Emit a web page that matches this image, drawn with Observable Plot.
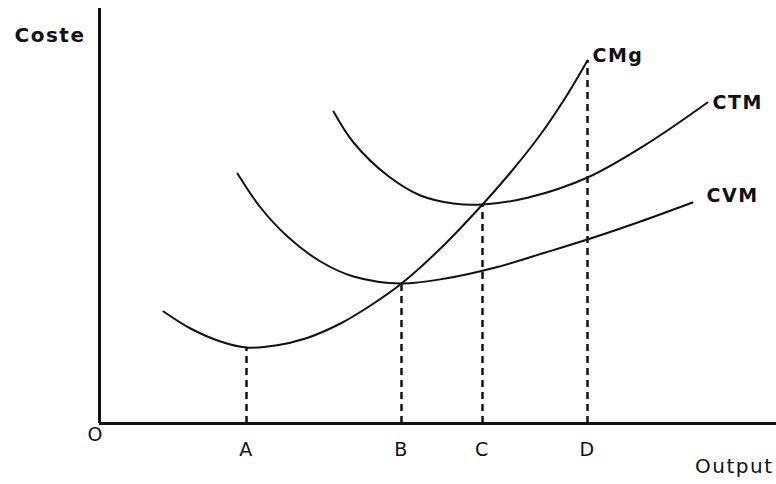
<!DOCTYPE html>
<html>
<head>
<meta charset="utf-8">
<script src="https://cdn.jsdelivr.net/npm/d3@7"></script>
<script src="https://cdn.jsdelivr.net/npm/@observablehq/plot@0.6"></script>
<style>
  html, body { margin: 0; padding: 0; background: #fff; }
  #chart svg text { letter-spacing: 1.5px; }
</style>
</head>
<body>
<div id="chart"></div>
<script>
// Output units (x) and cost units (y), origin at O
const cmgX = [64, 91, 121, 147, 176, 206, 241, 271, 302, 341, 383, 411, 441, 466, 488];
const cmgY = [112, 95, 82, 76, 78, 85, 100, 118, 140, 175, 219, 251, 289, 326, 363];

const cvmX = [138, 161, 188, 221, 254, 302, 346, 396, 446, 491, 541, 593];
const cvmY = [250, 216, 187, 162, 147, 140, 145, 156, 171, 185, 202, 221];

const ctmX = [234, 254, 288, 321, 354, 383, 429, 488, 548, 608];
const ctmY = [312, 281, 248, 228, 220, 219, 226, 246, 280, 321];

const levelLabels = ["A", "B", "C", "D"];
const levelX = [147, 302, 383, 488];
const levelY = [76, 140, 219, 363];

const curveNames = ["CMg", "CTM", "CVM"];

const xMax = 677, yMax = 415;

const toRows = (xs, ys) => xs.map((x, i) => ({x, y: ys[i]}));
const cmg = toRows(cmgX, cmgY);
const cvm = toRows(cvmX, cvmY);
const ctm = toRows(ctmX, ctmY);
const levels = levelLabels.map((l, i) => ({label: l, x: levelX[i], y: levelY[i]}));
const ends = [cmg[cmg.length - 1], ctm[ctm.length - 1], cvm[cvm.length - 1]].map((d, i) => ({...d, name: curveNames[i]}));
const labelDx = [5, 5, 14];
const labelDy = [-5, 0, -7];

const ink = "#111";
const font = "DejaVu Sans, sans-serif";

const chart = Plot.plot({
  width: 776,
  height: 484,
  marginLeft: 99,
  marginRight: 0,
  marginTop: 8,
  marginBottom: 61,
  style: {fontFamily: font, background: "#fff"},
  x: {domain: [0, xMax], axis: null},
  y: {domain: [0, yMax], axis: null},
  marks: [
    Plot.ruleX(levels, {x: "x", y1: 0, y2: "y", stroke: ink, strokeWidth: 2.5, strokeDasharray: "7,5"}),
    Plot.line(cmg, {x: "x", y: "y", curve: "catmull-rom", stroke: ink, strokeWidth: 2}),
    Plot.line(cvm, {x: "x", y: "y", curve: "catmull-rom", stroke: ink, strokeWidth: 2}),
    Plot.line(ctm, {x: "x", y: "y", curve: "catmull-rom", stroke: ink, strokeWidth: 2}),
    Plot.ruleX([0], {y1: 0, y2: yMax, stroke: ink, strokeWidth: 3}),
    Plot.ruleY([0], {x1: 0, x2: xMax, stroke: ink, strokeWidth: 3}),
    Plot.text(levels, {x: "x", y: 0, text: "label", dy: 26, fontSize: 19, fill: ink}),
    ...ends.map((d, i) => Plot.text([d], {x: "x", y: "y", text: "name", textAnchor: "start", dx: labelDx[i], dy: labelDy[i], fontSize: 19, fontWeight: "bold", fill: ink})),
    Plot.text(["Coste"], {frameAnchor: "top-left", textAnchor: "start", dx: -85, dy: 19, fontSize: 20, fontWeight: "bold", fill: ink}),
    Plot.text(["O"], {frameAnchor: "bottom-left", dx: -12, dy: 17, fontSize: 19, fill: ink}),
    Plot.text(["Output"], {frameAnchor: "bottom-right", textAnchor: "end", dx: -3, dy: 49, fontSize: 20, fill: ink})
  ]
});
document.getElementById("chart").appendChild(chart);
</script>
</body>
</html>
